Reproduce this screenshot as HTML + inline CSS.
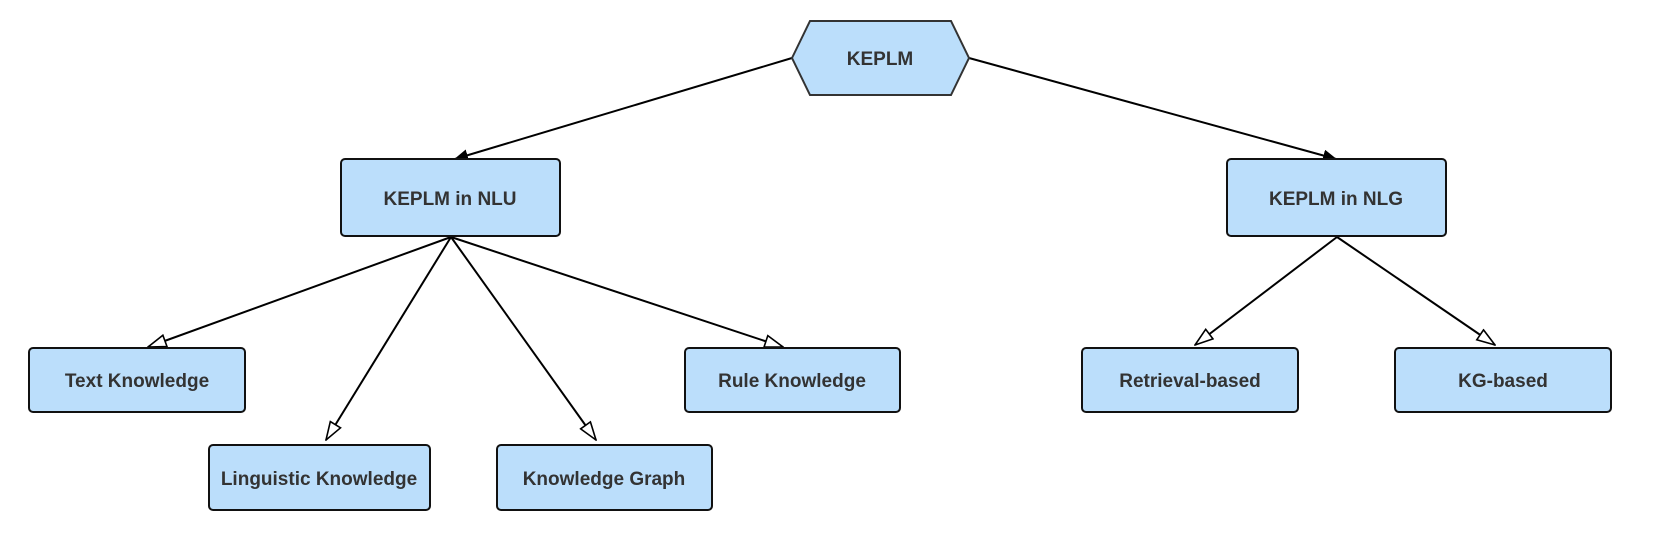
<!DOCTYPE html>
<html><head><meta charset="utf-8"><style>
html,body{margin:0;padding:0;background:#fff;}
svg text{font-family:"Liberation Sans",sans-serif;font-weight:bold;font-size:19px;fill:#333;}
</style></head><body>
<svg width="1660" height="543" viewBox="0 0 1660 543" xmlns="http://www.w3.org/2000/svg">
<defs>
<marker id="fa" viewBox="0 0 14 12" refX="13" refY="6" markerWidth="14" markerHeight="12" markerUnits="userSpaceOnUse" orient="auto"><path d="M0,0 L14,6 L0,12 Z" fill="#000"/></marker>
<marker id="oa" viewBox="0 0 20 14" refX="19" refY="7" markerWidth="20" markerHeight="14" markerUnits="userSpaceOnUse" orient="auto"><path d="M1,1 L19,7 L1,13 Z" fill="#fff" stroke="#000" stroke-width="1.6"/></marker>
</defs>
<g stroke="#000" stroke-width="2" fill="none">
<line x1="792" y1="58" x2="455" y2="159" marker-end="url(#fa)"/>
<line x1="969" y1="58" x2="1336" y2="159" marker-end="url(#fa)"/>
<line x1="451" y1="237" x2="148" y2="347" marker-end="url(#oa)"/>
<line x1="451" y1="237" x2="326" y2="440" marker-end="url(#oa)"/>
<line x1="451" y1="237" x2="596" y2="440" marker-end="url(#oa)"/>
<line x1="451" y1="237" x2="783" y2="347" marker-end="url(#oa)"/>
<line x1="1337" y1="237" x2="1195" y2="345" marker-end="url(#oa)"/>
<line x1="1337" y1="237" x2="1495" y2="345" marker-end="url(#oa)"/>
</g>
<polygon points="792,58 810,21 951,21 969,58 951,95 810,95" fill="#bbdefb" stroke="#333" stroke-width="2"/>
<text x="880" y="65" text-anchor="middle">KEPLM</text>
<g fill="#bbdefb" stroke="#111" stroke-width="2">
<rect x="341" y="159" width="219" height="77" rx="4"/>
<rect x="1227" y="159" width="219" height="77" rx="4"/>
<rect x="29" y="348" width="216" height="64" rx="4"/>
<rect x="685" y="348" width="215" height="64" rx="4"/>
<rect x="209" y="445" width="221" height="65" rx="4"/>
<rect x="497" y="445" width="215" height="65" rx="4"/>
<rect x="1082" y="348" width="216" height="64" rx="4"/>
<rect x="1395" y="348" width="216" height="64" rx="4"/>
</g>
<text x="450" y="205" text-anchor="middle">KEPLM in NLU</text>
<text x="1336" y="205" text-anchor="middle">KEPLM in NLG</text>
<text x="137" y="387" text-anchor="middle">Text Knowledge</text>
<text x="792" y="387" text-anchor="middle">Rule Knowledge</text>
<text x="319" y="485" text-anchor="middle">Linguistic Knowledge</text>
<text x="604" y="485" text-anchor="middle">Knowledge Graph</text>
<text x="1190" y="387" text-anchor="middle">Retrieval-based</text>
<text x="1503" y="387" text-anchor="middle">KG-based</text>
</svg>
</body></html>
